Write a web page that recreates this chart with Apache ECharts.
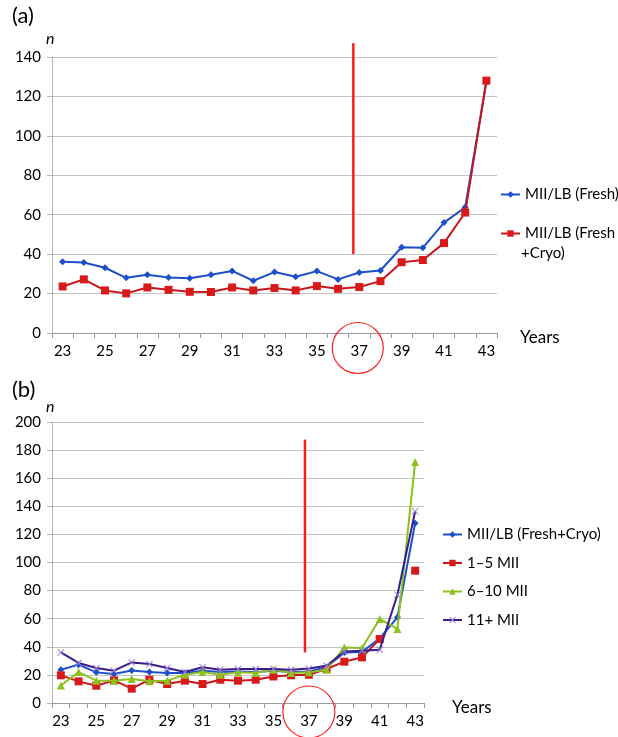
<!DOCTYPE html>
<html>
<head>
<meta charset="utf-8">
<script src="https://cdn.jsdelivr.net/npm/echarts@6/dist/echarts.min.js"></script>
<style>
html,body{margin:0;padding:0;background:#fff;}
#c{width:618px;height:737px;}
</style>
</head>
<body>
<div id="c"></div>
<script>
// ---- data ----
const years = ['23','24','25','26','27','28','29','30','31','32','33','34','35','36','37','38','39','40','41','42','43'];
// panel (a)
const aFresh     = [36.1,35.8,33.1,28.0,29.5,28.2,27.8,29.5,31.5,26.5,30.9,28.5,31.4,27.2,30.7,31.7,43.5,43.2,56.0,63.8,127.5];
const aFreshCryo = [23.6,27.2,21.6,20.1,23.1,21.9,20.9,20.8,23.1,21.6,22.8,21.6,23.8,22.4,23.3,26.3,35.9,37.0,45.6,61.1,128.0];
// panel (b)
const bFreshCryo = [23.7,27.3,21.8,20.6,23.2,22.0,21.3,21.3,23.0,22.0,22.5,22.0,23.0,22.0,22.5,25.5,36.0,36.3,46.0,61.0,128.0];
const b1to5      = [19.7,15.4,12.3,16.1,10.2,16.6,13.5,15.9,13.5,16.6,15.9,16.6,18.9,19.7,20.1,24.2,29.4,32.5,45.5,null,94.2];
const b6to10     = [12.5,22.0,15.9,15.9,17.1,15.4,15.9,20.1,22.0,20.1,21.8,21.3,23.7,21.3,21.8,23.7,39.5,39.1,59.8,52.7,171.5];
const b11plus    = [36.0,28.5,24.9,23.0,28.9,27.7,24.9,22.0,25.4,23.7,24.2,24.2,24.2,23.7,24.5,26.5,36.7,37.2,37.9,77.1,136.4];
// y-axis ranges
const aYMax = 140, bYMax = 200, yStep = 20;
// annotations: red threshold line (category index, value range), circled year
const threshA = {idx: 13.72, from: 40, to: 147};
const threshB = {idx: 13.78, from: 36, to: 187.5};
const circledYear = '37';
const xTitle = 'Years';

const names = {
  aFresh: 'MII/LB (Fresh)',
  aFreshCryo: 'MII/LB (Fresh+Cryo)',
  bFreshCryo: 'MII/LB (Fresh+Cryo) ',
  b1to5: '1\u20135 MII',
  b6to10: '6\u201310 MII',
  b11plus: '11+ MII'
};

const FONT = 'Lato';
const BLUE = '#1d4fcc', RED = '#d91a1a', GREEN = '#8cc21e', PURPLE = '#3b1c8c';
const crossPath = 'path://M0,1L1,0L5,4L9,0L10,1L6,5L10,9L9,10L5,6L1,10L0,9L4,5Z';

function xAxisCfg(gridIndex){
  return {
    type: 'category', gridIndex, data: years, boundaryGap: true,
    axisLine: {lineStyle: {color: '#9a9a9a', width: 1}},
    axisTick: {show: true, interval: 0, alignWithLabel: false, length: 5, lineStyle: {color: '#9a9a9a'}},
    axisLabel: {interval: 1, fontFamily: FONT, fontSize: 15, color: '#000', margin: 11},
    splitLine: {show: false}
  };
}
function yAxisCfg(gridIndex, max, gap){
  return {
    type: 'value', gridIndex, min: 0, max: max, interval: yStep,
    name: 'n', nameLocation: 'end', nameGap: gap,
    nameTextStyle: {fontFamily: FONT, fontSize: 16, fontStyle: 'italic', color: '#000', align: 'left', padding: [0,0,0,-6]},
    axisLine: {show: true, lineStyle: {color: '#b5b5b5', width: 1}},
    axisTick: {show: true, length: 5, lineStyle: {color: '#b5b5b5'}},
    axisLabel: {fontFamily: FONT, fontSize: 15, color: '#000', margin: 11},
    splitLine: {show: true, lineStyle: {color: '#c4c4c4', width: 1}}
  };
}
function lineSeries(name, data, xi, color, symbol, size, symColor, z){
  return {
    type: 'line', name, data, xAxisIndex: xi, yAxisIndex: xi,
    symbol, symbolSize: size, showSymbol: true, connectNulls: false,
    lineStyle: {color, width: 2}, itemStyle: {color: symColor || color},
    emphasis: {disabled: true}, z: z || 2, animation: false
  };
}

const chart = echarts.init(document.getElementById('c'), null, {renderer: 'canvas'});
const legendText = {fontFamily: FONT, fontSize: 15, color: '#000'};
chart.setOption({
  animation: false,
  backgroundColor: '#fff',
  grid: [
    {left: 52, right: 121, top: 57, height: 276},
    {left: 52, right: 194, top: 422, height: 281}
  ],
  xAxis: [xAxisCfg(0), xAxisCfg(1)],
  yAxis: [yAxisCfg(0, aYMax, 10), yAxisCfg(1, bYMax, 6)],
  legend: [
    {
      data: [names.aFresh, names.aFreshCryo], orient: 'vertical', left: 500, top: 187, padding: 0,
      itemWidth: 19, itemHeight: 8, itemGap: 24, textStyle: legendText,
      formatter: n => n === names.aFreshCryo ? 'MII/LB (Fresh' : n,
      selectedMode: false
    },
    {
      data: [names.bFreshCryo, names.b1to5, names.b6to10, names.b11plus], orient: 'vertical', left: 442, top: 527, padding: 0,
      itemWidth: 19, itemHeight: 8, itemGap: 13.5, textStyle: legendText,
      formatter: n => n.trim(),
      selectedMode: false
    }
  ],
  series: [
    lineSeries(names.aFresh, aFresh, 0, BLUE, 'diamond', 7, BLUE, 2),
    lineSeries(names.aFreshCryo, aFreshCryo, 0, '#c8161c', 'rect', 8, RED, 3),
    lineSeries(names.bFreshCryo, bFreshCryo, 1, BLUE, 'diamond', 7, BLUE, 2),
    lineSeries(names.b1to5, b1to5, 1, '#c8161c', 'rect', 8, RED, 3),
    lineSeries(names.b6to10, b6to10, 1, GREEN, 'triangle', 8, GREEN, 4),
    lineSeries(names.b11plus, b11plus, 1, PURPLE, crossPath, 7, '#9b7fd6', 5)
  ]
});

function catPix(gridIdx, i){ return chart.convertToPixel({xAxisIndex: gridIdx}, years[i]); }
function catX(gridIdx, idx){
  const i0 = Math.floor(idx), f = idx - i0;
  const p0 = catPix(gridIdx, i0), p1 = catPix(gridIdx, i0 + 1);
  return p0 + (p1 - p0) * f;
}
function yPix(gridIdx, v){ return chart.convertToPixel({yAxisIndex: gridIdx}, v); }

const xa = catX(0, threshA.idx), xb = catX(1, threshB.idx);
const ca = chart.convertToPixel({xAxisIndex: 0}, circledYear);
const cb = chart.convertToPixel({xAxisIndex: 1}, circledYear);
const y0a = yPix(0, 0), y0b = yPix(1, 0);
const last = years.length - 1;
const endA = catPix(0, last) + (catPix(0, 1) - catPix(0, 0)) / 2;
const endB = catPix(1, last) + (catPix(1, 1) - catPix(1, 0)) / 2;

chart.setOption({
  graphic: [
    {type: 'text', left: 12, top: 5, style: {text: '(a)', fontFamily: FONT, fontSize: 22, fill: '#000'}},
    {type: 'text', left: 12, top: 379, style: {text: '(b)', fontFamily: FONT, fontSize: 22, fill: '#000'}},
    {type: 'text', x: endA + 23, y: y0a + 5, style: {text: xTitle, fontFamily: FONT, fontSize: 17, fill: '#000', verticalAlign: 'middle'}},
    {type: 'text', x: endB + 28, y: y0b + 5, style: {text: xTitle, fontFamily: FONT, fontSize: 17, fill: '#000', verticalAlign: 'middle'}},
    {type: 'line', shape: {x1: xa, y1: yPix(0, threshA.from), x2: xa, y2: yPix(0, threshA.to)}, style: {stroke: '#ff1a1a', lineWidth: 2.5}, z: 10},
    {type: 'line', shape: {x1: xb, y1: yPix(1, threshB.from), x2: xb, y2: yPix(1, threshB.to)}, style: {stroke: '#ff1a1a', lineWidth: 2.5}, z: 10},
    {type: 'circle', shape: {cx: ca - 1.5, cy: y0a + 15, r: 25.5}, style: {fill: 'none', stroke: '#ff2020', lineWidth: 1.2}, z: 10},
    {type: 'circle', shape: {cx: cb, cy: y0b + 9, r: 26}, style: {fill: 'none', stroke: '#ff2020', lineWidth: 1.2}, z: 10},
    {type: 'text', left: 521, top: 246, style: {text: '+Cryo)', fontFamily: FONT, fontSize: 15, fill: '#000'}}
  ]
});
</script>
</body>
</html>
